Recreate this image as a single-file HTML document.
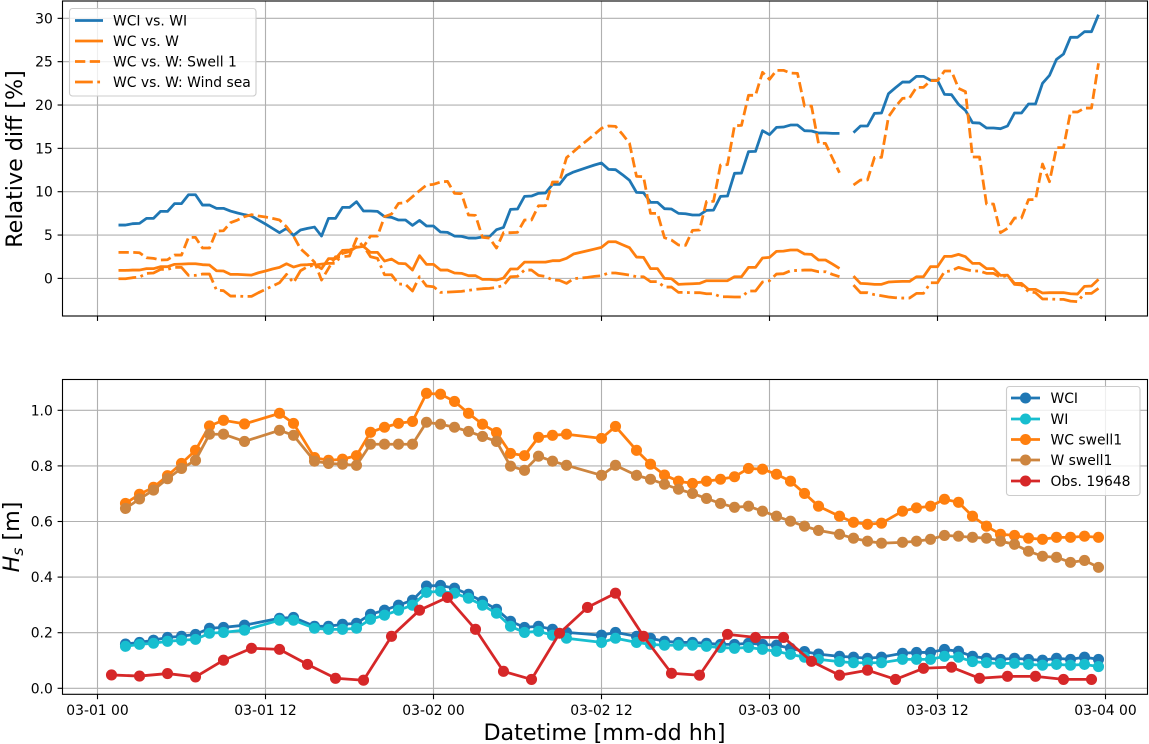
<!DOCTYPE html>
<html lang="en">
<head>
<meta charset="utf-8">
<title>Relative difference and significant wave height</title>
<style>
  html, body { margin: 0; padding: 0; background: #fff; }
  body { width: 1149px; height: 744px; overflow: hidden; }
  svg { display: block; font-family: "DejaVu Sans", "Liberation Sans", sans-serif; }
  svg text { fill: #000; }
</style>
</head>
<body>
<svg id="chart" xmlns="http://www.w3.org/2000/svg" width="1149" height="744" viewBox="0 0 1149 744">
  <rect x="0" y="0" width="1149" height="744" fill="#fff"/>
  <g id="top-axes"></g>
  <g id="bottom-axes"></g>

  <text transform="translate(22,159) rotate(-90)" text-anchor="middle" font-size="22.2">Relative diff [%]</text>
  <text transform="translate(19,537) rotate(-90)" text-anchor="middle" font-size="22.2"><tspan font-style="italic">H</tspan><tspan font-style="italic" font-size="15.5" dy="4">s</tspan><tspan dy="-4"> [m]</tspan></text>
  <text x="604.5" y="740" text-anchor="middle" font-size="22.2">Datetime [mm-dd hh]</text>

  <g>
    <rect x="69.5" y="8.5" width="186.5" height="87.5" rx="3" fill="#fff" fill-opacity="0.8" stroke="#ccc" stroke-width="1.1"/>
    <line x1="75" x2="103" y1="20.5" y2="20.5" stroke="#1f77b4" stroke-width="2.78"/>
    <text x="113" y="25.5" font-size="13.9">WCI vs. WI</text>
    <line x1="75" x2="103" y1="41" y2="41" stroke="#ff7f0e" stroke-width="2.78"/>
    <text x="113" y="46" font-size="13.9">WC vs. W</text>
    <line x1="75" x2="103" y1="61.5" y2="61.5" stroke="#ff7f0e" stroke-width="2.78" stroke-dasharray="10.3 4.45"/>
    <text x="113" y="66.5" font-size="13.9">WC vs. W: Swell 1</text>
    <line x1="75" x2="103" y1="82" y2="82" stroke="#ff7f0e" stroke-width="2.78" stroke-dasharray="17.8 4.45 2.78 4.45"/>
    <text x="113" y="87" font-size="13.9">WC vs. W: Wind sea</text>
  </g>

  <g>
    <rect x="1006.5" y="386.5" width="133.5" height="109" rx="3" fill="#fff" fill-opacity="0.8" stroke="#ccc" stroke-width="1.1"/>
    <line x1="1011" x2="1040" y1="398" y2="398" stroke="#1f77b4" stroke-width="2.78"/>
    <circle cx="1025.5" cy="398" r="5.55" fill="#1f77b4"/>
    <text x="1050.5" y="403" font-size="13.9">WCI</text>
    <line x1="1011" x2="1040" y1="419" y2="419" stroke="#17becf" stroke-width="2.78"/>
    <circle cx="1025.5" cy="419" r="5.55" fill="#17becf"/>
    <text x="1050.5" y="424" font-size="13.9">WI</text>
    <line x1="1011" x2="1040" y1="439.5" y2="439.5" stroke="#ff7f0e" stroke-width="2.78"/>
    <circle cx="1025.5" cy="439.5" r="5.55" fill="#ff7f0e"/>
    <text x="1050.5" y="444.5" font-size="13.9">WC swell1</text>
    <line x1="1011" x2="1040" y1="460" y2="460" stroke="#cd853f" stroke-width="2.78"/>
    <circle cx="1025.5" cy="460" r="5.55" fill="#cd853f"/>
    <text x="1050.5" y="465" font-size="13.9">W swell1</text>
    <line x1="1011" x2="1040" y1="481" y2="481" stroke="#d62728" stroke-width="2.78"/>
    <circle cx="1025.5" cy="481" r="5.55" fill="#d62728"/>
    <text x="1050.5" y="486" font-size="13.9">Obs. 19648</text>
  </g>
</svg>
<script>
// ---- shared x axis ----
const xTickHours = [0, 12, 24, 36, 48, 60, 72];
const xTickLabels = ['03-01 00', '03-01 12', '03-02 00', '03-02 12', '03-03 00', '03-03 12', '03-04 00'];

// ---- top panel: relative difference [%] ----
const topYTicks = [0, 5, 10, 15, 20, 25, 30];
const diffStartHour = 1.5;
const diffStepHours = 0.5;
const wciVsWi = [
  6.15,6.15,6.31,6.35,6.92,6.92,7.73,7.73,8.62,8.62,
  9.65,9.65,8.46,8.46,8.08,8.08,7.77,7.54,7.35,7.19,
  6.73,6.27,5.77,5.27,5.77,4.96,5.58,5.77,5.92,4.88,
  6.92,6.92,8.19,8.19,8.85,7.77,7.77,7.73,7.12,7.04,
  6.73,6.73,6.12,6.69,6.04,
  6.04,5.35,5.31,4.88,4.85,4.65,4.65,4.77,4.81,5.62,
  5.88,7.96,8,9.46,9.5,9.81,9.85,10.85,10.85,11.88,
  12.27,12.54,12.81,13.08,13.31,12.58,12.54,11.96,11.31,9.92,
  9.88,8.77,8.77,8.04,8,7.5,7.46,7.31,7.31,7.85,
  7.88,9.46,9.5,12.12,12.15,14.62,14.65,17.04,16.58,17.42,
  17.46,17.69,17.69,
  17.04,17,16.77,16.77,16.73,16.73,null,16.81,17.58,17.58,
  19.04,19.08,21.31,22,22.65,22.65,23.31,23.31,22.85,22.85,
  21.23,21.19,20.08,19.38,17.96,17.92,17.35,17.35,17.27,17.58,
  19.08,19.08,20.12,20.12,22.5,23.42,25.27,25.88,27.81,27.81,
  28.46,28.46,30.42
];
const wcVsW = [
  0.92,0.92,0.96,0.96,1.12,1.12,1.35,1.35,1.62,1.65,
  1.69,1.69,1.58,1.54,0.88,0.85,0.46,0.46,0.42,0.38,
  0.65,0.85,1.08,1.27,1.69,1.31,1.54,1.58,1.65,1.12,
  2.27,2.27,3.23,3.27,3.58,3.69,3,3,2,2.23,
  1.73,1.69,0.96,2.62,1.62,
  1.62,0.96,0.96,0.62,0.58,0.31,0.31,-0.12,-0.12,-0.19,
  0.04,1.08,1.08,1.88,1.88,1.88,1.88,2.04,2.04,2.31,
  2.81,3,3.19,3.38,3.58,4.23,4.23,3.88,3.54,2.46,
  2.42,1.12,1.12,0,-0.04,-0.69,-0.65,-0.62,-0.58,-0.27,
  -0.27,-0.27,-0.27,0.19,0.19,1.27,1.27,2.35,2.42,3.12,
  3.15,3.27,3.27,
  2.81,2.77,2.12,2.12,1.65,1.15,null,0.27,-0.58,-0.62,
  -0.69,-0.69,-0.42,-0.38,-0.35,-0.35,0.19,0.19,1.35,1.35,
  2.54,2.54,2.77,2.5,1.73,1.73,1.12,1.12,0.35,0.38,
  -0.58,-0.58,-1.27,-1.27,-1.69,-1.65,-1.65,-1.65,-1.77,-1.81,
  -0.92,-0.88,-0.12
];
const wcVsWSwell1 = [
  3,3,3,2.96,2.38,2.31,2.12,2.15,2.69,2.69,
  4.73,4.73,3.5,3.5,5.46,5.5,6.42,6.73,7.12,7.35,
  7.19,7.08,6.92,6.73,5.96,4.88,3.42,2.69,1.88,-0.19,
  1.15,2.5,2.5,2.58,4.58,3.65,4.88,4.88,7.12,7.42,
  8.65,8.73,9.42,10.12,10.77,
  10.85,11.12,11.19,9.81,9.77,7.31,7.27,4.73,4.65,3.5,
  5.27,5.27,5.31,6.73,6.73,8.38,8.38,11.12,11.12,13.92,
  14.62,15.31,15.96,16.62,17.31,17.58,17.54,16.62,15.58,11.77,
  11.73,7.5,7.5,4.69,4.42,3.85,3.81,5.54,5.58,8.88,
  8.88,13.08,13.12,17.62,17.65,21.12,21.12,23.77,22.96,24,
  24,23.69,23.65,
  19.88,19.88,15.58,15.58,13.85,12.19,null,10.77,11.35,11.35,
  13.96,13.96,18.65,19.81,20.77,20.81,22.04,22.04,22.81,22.81,
  23.92,23.92,21.92,21.54,14,14,8.58,8.58,5.27,5.77,
  6.96,6.96,9.08,9.08,13.19,11.15,15.08,15.08,19.19,19.19,
  19.65,19.65,24.81
];
const wcVsWWindSea = [
  -0.04,-0.04,0.08,0.15,0.58,0.62,1.04,1.04,1.27,1.27,
  0.35,0.35,0.5,0.5,-1.35,-1.42,-2.04,-2.04,-2.08,-2.08,
  -1.65,-1.27,-0.88,-0.5,0.46,-0.5,0.88,1.35,1.54,1.65,
  1.73,1.73,2.88,3.08,3.65,3.73,2.5,2.31,0.42,0.42,
  -0.65,-0.69,-1.46,0.19,-0.88,
  -0.96,-1.62,-1.58,-1.54,-1.5,-1.38,-1.27,-1.19,-1.15,-1.04,
  -0.81,0.19,0.23,0.96,0.96,0.35,0.23,-0.19,-0.23,-0.58,
  -0.04,0.04,0.12,0.23,0.31,0.62,0.62,0.5,0.38,0.19,
  0.19,-0.38,-0.38,-1,-1,-1.62,-1.62,-1.65,-1.65,-1.77,
  -1.77,-2.12,-2.12,-2.15,-2.15,-1.46,-1.46,-0.42,-0.27,0.5,
  0.54,0.88,0.92,
  0.96,0.96,0.77,0.77,0.46,0.19,null,-0.77,-1.65,-1.65,
  -1.88,-2,-2.15,-2.23,-2.27,-2.27,-1.73,-1.73,-0.5,-0.5,
  0.77,0.88,1.27,1.04,0.85,0.85,0.58,0.58,0.12,0.35,
  -0.69,-0.77,-1.54,-1.65,-2.38,-2.38,-2.42,-2.42,-2.62,-2.69,
  -1.73,-1.73,-1.15
];

// ---- bottom panel: Hs [m] ----
const bottomYTicks = [0, 0.2, 0.4, 0.6, 0.8, 1.0];
const bottomYTickLabels = ['0.0', '0.2', '0.4', '0.6', '0.8', '1.0'];
const modelHours = [
  2,3,4,5,6,7,8,9,10.5,13,14,15.5,16.5,17.5,18.5,19.5,20.5,21.5,22.5,23.5,
  24.5,25.5,26.5,27.5,28.5,29.5,30.5,31.5,32.5,33.5,36,37,38.5,39.5,40.5,41.5,42.5,43.5,44.5,45.5,
  46.5,47.5,48.5,49.5,50.5,51.5,53,54,55,56,57.5,58.5,59.5,60.5,61.5,62.5,63.5,64.5,65.5,66.5,
  67.5,68.5,69.5,70.5,71.5
];
const hsWci = [
  0.159,0.165,0.173,0.183,0.187,0.194,0.216,0.219,0.227,0.252,0.255,0.223,0.223,0.230,0.234,0.266,0.281,0.299,0.317,0.368,
  0.370,0.360,0.338,0.313,0.284,0.241,0.219,0.223,0.212,0.201,0.191,0.201,0.187,0.180,0.169,0.165,0.165,0.162,0.158,0.158,
  0.162,0.158,0.155,0.144,0.132,0.123,0.115,0.112,0.108,0.112,0.126,0.129,0.129,0.140,0.133,0.115,0.108,0.104,0.108,0.104,
  0.101,0.108,0.104,0.112,0.104
];
const hsWi = [
  0.151,0.158,0.162,0.169,0.173,0.176,0.198,0.201,0.209,0.245,0.245,0.216,0.212,0.212,0.216,0.248,0.263,0.281,0.299,0.345,
  0.349,0.342,0.324,0.299,0.270,0.223,0.201,0.205,0.191,0.180,0.165,0.180,0.165,0.158,0.155,0.155,0.155,0.151,0.147,0.144,
  0.147,0.140,0.133,0.122,0.112,0.104,0.096,0.092,0.092,0.092,0.104,0.104,0.104,0.115,0.112,0.096,0.092,0.089,0.090,0.086,
  0.083,0.086,0.083,0.086,0.078
];
const hsWcSwell1 = [
  0.665,0.698,0.723,0.765,0.809,0.856,0.944,0.964,0.951,0.989,0.953,0.830,0.820,0.824,0.837,0.921,0.939,0.953,0.960,1.061,
  1.058,1.032,0.989,0.950,0.920,0.845,0.837,0.903,0.910,0.914,0.899,0.942,0.856,0.806,0.767,0.745,0.737,0.745,0.752,0.761,
  0.791,0.788,0.770,0.745,0.701,0.655,0.619,0.597,0.590,0.594,0.637,0.649,0.655,0.680,0.669,0.619,0.583,0.554,0.550,0.540,
  0.536,0.543,0.543,0.547,0.543
];
const hsWSwell1 = [
  0.647,0.681,0.713,0.754,0.791,0.820,0.914,0.914,0.888,0.928,0.910,0.817,0.809,0.806,0.802,0.878,0.878,0.878,0.878,0.957,
  0.950,0.939,0.924,0.906,0.888,0.799,0.784,0.835,0.817,0.802,0.766,0.802,0.766,0.752,0.734,0.716,0.701,0.683,0.665,0.651,
  0.655,0.637,0.619,0.601,0.583,0.568,0.554,0.540,0.529,0.522,0.525,0.529,0.536,0.550,0.547,0.543,0.540,0.529,0.518,0.493,
  0.475,0.471,0.453,0.460,0.435
];
const obsHours = [1,3,5,7,9,11,13,15,17,19,21,23,25,27,29,31,33,35,37,39,41,43,45,47,49,51,53,55,57,59,61,63,65,67,69,71];
const hsObs = [
  0.048,0.044,0.053,0.041,0.101,0.144,0.140,0.086,0.036,0.029,0.187,0.281,0.327,0.212,0.061,0.032,0.198,0.291,
  0.342,0.187,0.054,0.047,0.194,0.183,0.183,0.097,0.047,0.065,0.032,0.072,0.076,0.036,0.043,0.043,0.032,0.032
];

const NS = 'http://www.w3.org/2000/svg';
const plotLeft = 62.5, plotRight = 1147.5;
const xMinHour = -2.5, xMaxHour = 75;
const topPanel = { top: 1, bottom: 316, min: -4.34, max: 32.0 };
const bottomPanel = { top: 379.5, bottom: 694.3, min: -0.0216, max: 1.1108 };

function xScale(hour) {
  return plotLeft + (hour - xMinHour) / (xMaxHour - xMinHour) * (plotRight - plotLeft);
}
function yScale(panel, value) {
  return panel.bottom - (value - panel.min) / (panel.max - panel.min) * (panel.bottom - panel.top);
}
function make(tag, attrs, parent) {
  const el = document.createElementNS(NS, tag);
  for (const k in attrs) el.setAttribute(k, attrs[k]);
  parent.appendChild(el);
  return el;
}
function linePath(panel, hours, values) {
  let d = '', pen = false;
  values.forEach(function (v, i) {
    if (v === null) { pen = false; return; }
    d += (pen ? 'L' : 'M') + xScale(hours[i]).toFixed(2) + ' ' + yScale(panel, v).toFixed(2);
    pen = true;
  });
  return d;
}
function drawFrame(group, panel, ticks, labels, showXLabels) {
  xTickHours.forEach(function (h, i) {
    const x = xScale(h);
    const grid = make('line', { x1: x, x2: x, y1: panel.top, y2: panel.bottom, stroke: '#b0b0b0', 'stroke-width': 1.11 }, group);
    
    
    const tick = make('line', { x1: x, x2: x, y1: panel.bottom, y2: panel.bottom + 4.9, stroke: '#000', 'stroke-width': 1.11 }, group);
    
    
    if (showXLabels) {
      const t = make('text', { x: x, y: 715, 'text-anchor': 'middle', 'font-size': 13.9 }, group);
      
      
      t.textContent = xTickLabels[i];
    }
  });
  ticks.forEach(function (v, i) {
    const y = yScale(panel, v);
    const grid = make('line', { x1: plotLeft, x2: plotRight, y1: y, y2: y, stroke: '#b0b0b0', 'stroke-width': 1.11 }, group);
    
    
    const tick = make('line', { x1: plotLeft - 4.9, x2: plotLeft, y1: y, y2: y, stroke: '#000', 'stroke-width': 1.11 }, group);
    
    
    const t = make('text', { x: plotLeft - 9.7, y: y + 5, 'text-anchor': 'end', 'font-size': 13.9 }, group);
    
    
    t.textContent = labels[i];
  });
}
function drawSpines(group, panel) {
  const box = make('rect', { x: plotLeft, y: panel.top, width: plotRight - plotLeft, height: panel.bottom - panel.top, fill: 'none', stroke: '#000', 'stroke-width': 1.11 }, group);
  
  
}

const diffHours = wciVsWi.map(function (_, i) { return diffStartHour + i * diffStepHours; });
const topGroup = document.getElementById('top-axes');
drawFrame(topGroup, topPanel, topYTicks, topYTicks.map(String), false);

function drawDiffLine(name, values, color, dash) {
  const path = make('path', {
    d: linePath(topPanel, diffHours, values),
    fill: 'none', stroke: color, 'stroke-width': 2.78,
    'stroke-linejoin': 'round', 'stroke-linecap': 'butt'
  }, topGroup);
  if (dash) path.setAttribute('stroke-dasharray', dash);
  
  
}
drawDiffLine('wci-vs-wi-line', wciVsWi, '#1f77b4', null);
drawDiffLine('wc-vs-w-line', wcVsW, '#ff7f0e', null);
drawDiffLine('wc-vs-w-swell-1-line', wcVsWSwell1, '#ff7f0e', '10.3 4.45');
drawDiffLine('wc-vs-w-wind-sea-line', wcVsWWindSea, '#ff7f0e', '17.8 4.45 2.78 4.45');
drawSpines(topGroup, topPanel);

const bottomGroup = document.getElementById('bottom-axes');
drawFrame(bottomGroup, bottomPanel, bottomYTicks, bottomYTickLabels, true);

function drawHsSeries(name, hours, values, color) {
  const g = make('g', {}, bottomGroup);
  
  
  const path = make('path', {
    d: linePath(bottomPanel, hours, values),
    fill: 'none', stroke: color, 'stroke-width': 2.78, 'stroke-linejoin': 'round'
  }, g);
  
  
  values.forEach(function (v, i) {
    const dot = make('circle', { cx: xScale(hours[i]), cy: yScale(bottomPanel, v), r: 5.55, fill: color }, g);
    
    
  });
}
drawHsSeries('wci-series', modelHours, hsWci, '#1f77b4');
drawHsSeries('wi-series', modelHours, hsWi, '#17becf');
drawHsSeries('wc-swell1-series', modelHours, hsWcSwell1, '#ff7f0e');
drawHsSeries('w-swell1-series', modelHours, hsWSwell1, '#cd853f');
drawHsSeries('obs-19648-series', obsHours, hsObs, '#d62728');
drawSpines(bottomGroup, bottomPanel);
</script>
</body>
</html>
